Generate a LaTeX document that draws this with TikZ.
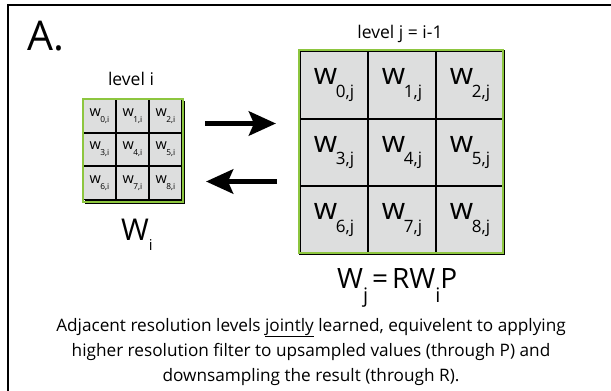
\documentclass[tikz,border=0pt]{standalone}
\usepackage{fontspec}
\setmainfont{Open Sans}
\usetikzlibrary{arrows.meta}
\definecolor{cellgray}{RGB}{221,222,222}
\definecolor{framegreen}{RGB}{141,198,63}
\newcommand{\cellw}[3]{\fontsize{#1}{#1}\selectfont w\kern-0.04em\raisebox{-0.42em}{\fontsize{#2}{#2}\selectfont #3}}
\tikzset{
  smallcell/.style={draw=black, line width=1.6pt, fill=cellgray, minimum size=33pt, inner sep=0pt, anchor=center},
  bigcell/.style={draw=black, line width=2pt, fill=cellgray, minimum size=68pt, inner sep=0pt, anchor=center},
  greenrim/.style={draw=framegreen, line width=2.4pt},
  bigarrow/.style={line width=5.5pt, -{Stealth[length=27pt,width=24pt,inset=5pt]}},
  caption/.style={font=\fontsize{17.2}{25}\selectfont, align=center},
}
\begin{document}
\begin{tikzpicture}[x=1pt,y=-1pt]
\useasboundingbox (0,0) rectangle (611,391);
\fill[white] (0,0) rectangle (611,391);
% panel frame (left and top edges)
\draw[line width=2pt] (8,391) -- (8,5) -- (611,5);
\node[anchor=base west, font=\fontsize{41}{41}\selectfont, inner sep=0pt] (label) at (27,50) {A.};

% ---- small grid, level i
\fill[black] (85,101) rectangle (185,204);
\foreach \k/\c/\r in {0/0/0,1/1/0,2/2/0,3/0/1,4/1/1,5/2/1,6/0/2,7/1/2,8/2/2}{
  \node[smallcell] (s\k) at ({83+16.5+33*\c},{99+16.8+33.6*\r}) {\cellw{14.5}{8.3}{\k,i}};
}
\draw[greenrim] (83,99) rectangle (183,201.8);
\node[anchor=base, font=\fontsize{17.5}{17.5}\selectfont, inner sep=0pt] (li) at (131,85) {level i};
\node[anchor=base west, inner sep=0pt] (wi) at (121,240)
  {\fontsize{30}{30}\selectfont W\raisebox{-0.36em}{\fontsize{15}{15}\selectfont i}};

% ---- large grid, level j
\fill[black] (301,52) rectangle (505,255);
\foreach \k/\c/\r in {0/0/0,1/1/0,2/2/0,3/0/1,4/1/1,5/2/1,6/0/2,7/1/2,8/2/2}{
  \node[bigcell] (b\k) at ({299+35+68*\c},{50+35+67.6*\r}) {\cellw{30}{17}{\k,j}};
}
\draw[greenrim] (299,50) rectangle (503,252.8);
\node[anchor=base, font=\fontsize{17.5}{17.5}\selectfont, inner sep=0pt] (lj) at (400,38) {level j = i-1};
\node[anchor=base west, inner sep=0pt] (wj) at (337,288)
  {\fontsize{28}{28}\selectfont W\raisebox{-0.5em}{\fontsize{20}{20}\selectfont j}\kern4pt=\kern4pt RW\raisebox{-0.5em}{\fontsize{20}{20}\selectfont i}P};

% ---- arrows between levels
\coordinate (r0) at (205,123.5);
\coordinate (r1) at (276,123.5);
\coordinate (l0) at (277,181.5);
\coordinate (l1) at (206,181.5);
\draw[bigarrow] (r0) -- (r1);
\draw[bigarrow] (l0) -- (l1);

% ---- caption (base anchor sits on the last line)
\node[caption, anchor=base, inner sep=0pt] (cap) at (311,381)
  {Adjacent resolution levels \underline{jointly} learned, equivelent to applying\\
   higher resolution filter to upsampled values (through P) and\\
   downsampling the result (through R).};
\end{tikzpicture}
\end{document}
